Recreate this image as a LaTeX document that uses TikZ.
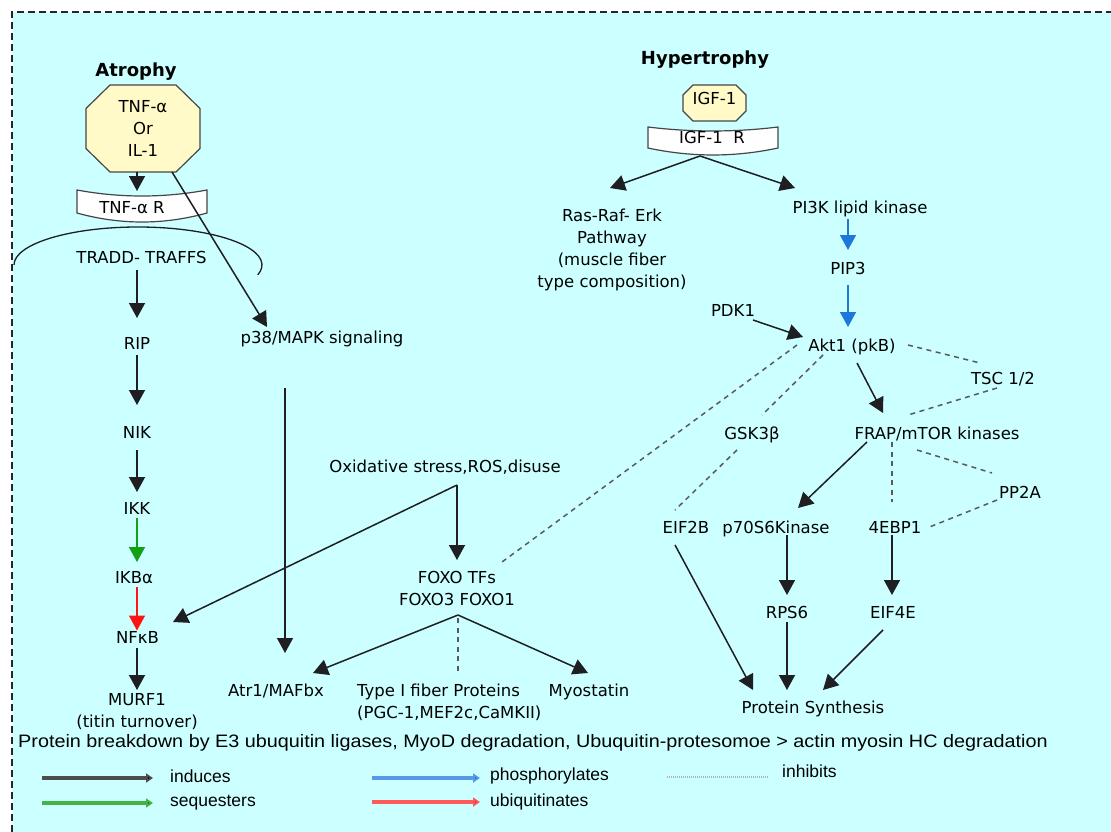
\documentclass[tikz,border=0pt]{standalone}
\usepackage{fontspec}
\usepackage{graphicx}
\setmainfont{DejaVu Sans}
\newfontfamily\legendfont{Liberation Sans}
\usetikzlibrary{arrows.meta,calc}

\definecolor{bgcyan}{RGB}{204,255,255}
\definecolor{ink}{RGB}{30,30,35}
\definecolor{octfill}{RGB}{255,250,200}
\definecolor{edgegray}{RGB}{70,70,70}
\definecolor{phosblue}{RGB}{30,120,220}
\definecolor{seqgreen}{RGB}{20,160,20}
\definecolor{ubired}{RGB}{255,20,20}
\definecolor{inhgray}{RGB}{90,90,90}

\newcommand\diagfont{\fontsize{16.5}{22}\selectfont}
\newcommand\titlefont{\fontsize{18}{22}\selectfont\bfseries}
\newcommand\keyfont{\legendfont\fontsize{17.5}{21}\selectfont}
\newcommand\notefont{\legendfont\fontsize{18}{21}\selectfont}

\begin{document}
\begin{tikzpicture}[x=1pt,y=-1pt,
  lbl/.style={inner sep=0pt, text height=12pt, text depth=0pt, font=\diagfont},
  block/.style={inner sep=0pt, align=center, font=\diagfont},
  title/.style={inner sep=0pt, text height=13pt, text depth=0pt, font=\titlefont},
  keytext/.style={inner sep=0pt, anchor=west, font=\keyfont},
  arr/.style={draw=ink, line width=1.5pt, -{Triangle[length=15pt,width=16pt]}},
  phos/.style={arr, draw=phosblue, -{Triangle[length=15pt,width=16pt,fill=phosblue]}},
  seq/.style={arr, draw=seqgreen, -{Triangle[length=15pt,width=16pt,fill=seqgreen]}},
  ubi/.style={arr, draw=ubired, -{Triangle[length=15pt,width=16pt,fill=ubired]}},
  inh/.style={draw=inhgray, line width=1.5pt, dash pattern=on 5pt off 4.5pt},
  octa/.style={draw=edgegray, fill=octfill, line width=1.2pt},
  recep/.style={draw=edgegray, fill=white, line width=1.2pt},
  keyarr/.style={line width=3.2pt},
]
\useasboundingbox (0,0) rectangle (1111,832);

% page and frame
\fill[white] (0,0) rectangle (1111,832);
\fill[bgcyan] (12,12) rectangle (1111,832);
\draw[black!85, line width=1.8pt, dash pattern=on 7pt off 4pt] (12,832) -- (12,12) -- (1111,12);

% ---------------- Atrophy side ----------------
\node[title] (atrophy) at (136,70) {Atrophy};

\coordinate (tnfc) at (143,128.5);
\draw[octa] ($(tnfc)+(-33,-43.5)$) -- ($(tnfc)+(33,-43.5)$) -- ($(tnfc)+(57,-20)$)
  -- ($(tnfc)+(57,20)$) -- ($(tnfc)+(33,43.5)$) -- ($(tnfc)+(-33,43.5)$)
  -- ($(tnfc)+(-57,20)$) -- ($(tnfc)+(-57,-20)$) -- cycle;
\node[block] (tnf) at (tnfc) {TNF-α\\Or\\IL-1};

\coordinate (tnfrc) at (142,205);
\draw[recep] ($(tnfrc)+(-65,-15)$) .. controls ($(tnfrc)+(-22,-7)$) and ($(tnfrc)+(22,-7)$) .. ($(tnfrc)+(65,-15)$)
  -- ($(tnfrc)+(65,8)$) .. controls ($(tnfrc)+(22,20)$) and ($(tnfrc)+(-22,20)$) .. ($(tnfrc)+(-65,8)$) -- cycle;
\node[lbl] (tnfr) at (132,207) {TNF-α R};

% membrane
\draw[ink, line width=1.3pt] (14,265) arc[start angle=180, end angle=375, x radius=124, y radius=38];

\node[lbl] (tradd) at (141.5,257.5) {TRADD- TRAFFS};
\node[lbl] (rip)   at (137,343) {RIP};
\node[lbl] (nik)   at (137,432) {NIK};
\node[lbl] (ikk)   at (137,508) {IKK};
\node[lbl] (ikba)  at (134,577) {IKBα};
\node[lbl] (nfkb)  at (137.5,637.5) {NFκB};
\node[block] (murf) at (137,712) {MURF1\\(titin turnover)};

\node[lbl] (p38)  at (322,337) {p38/MAPK signaling};
\node[lbl] (oxid) at (445,466) {Oxidative stress,ROS,disuse};
\node[block] (foxo) at (457,588) {FOXO TFs\\FOXO3 FOXO1};
\node[lbl] (atr)  at (276,690) {Atr1/MAFbx};
\node[block, align=left, anchor=west] (typei) at (357,702) {Type I fiber Proteins\\(PGC-1,MEF2c,CaMKII)};
\node[lbl] (myo)  at (589,690) {Myostatin};

\node[inner sep=0pt, anchor=west, font=\notefont] (breakdown) at (18,743) {\scalebox{1.1}[1]{Protein breakdown by E3 ubuquitin ligases, MyoD degradation, Ubuquitin-protesomoe > actin myosin HC degradation}};

% ---------------- Hypertrophy side ----------------
\node[title] (hyper) at (705,58.5) {Hypertrophy};

\coordinate (igfc) at (714.5,103);
\draw[octa] ($(igfc)+(-21.5,-18)$) -- ($(igfc)+(21.5,-18)$) -- ($(igfc)+(31.5,-8)$)
  -- ($(igfc)+(31.5,8)$) -- ($(igfc)+(21.5,18)$) -- ($(igfc)+(-21.5,18)$)
  -- ($(igfc)+(-31.5,8)$) -- ($(igfc)+(-31.5,-8)$) -- cycle;
\node[lbl] (igf) at (714.5,99) {IGF-1};

\coordinate (igfrc) at (713,140);
\draw[recep] ($(igfrc)+(-65,-13)$) .. controls ($(igfrc)+(-22,-7.7)$) and ($(igfrc)+(22,-7.7)$) .. ($(igfrc)+(65,-13)$)
  -- ($(igfrc)+(65,8)$) .. controls ($(igfrc)+(22,17.3)$) and ($(igfrc)+(-22,17.3)$) .. ($(igfrc)+(-65,8)$) -- cycle;
\node[lbl] (igfr) at (712,137.5) {IGF-1\ \ R};

\node[block] (ras)  at (612,250) {Ras-Raf- Erk\\Pathway\\(muscle fiber\\type composition)};
\node[lbl] (pi3k)  at (860,207) {PI3K lipid kinase};
\node[lbl] (pip3)  at (848,268) {PIP3};
\node[lbl] (pdk1)  at (733,310) {PDK1};
\node[lbl] (akt)   at (852,345) {Akt1 (pkB)};
\node[lbl] (tsc)   at (1003,378) {TSC 1/2};
\node[lbl] (frap)  at (937,433) {FRAP/mTOR kinases};
\node[lbl] (gsk)   at (752,433) {GSK3β};
\node[lbl] (eif2b) at (686,527) {EIF2B};
\node[lbl] (p70)   at (776,527) {p70S6Kinase};
\node[lbl] (ebp)   at (895,527) {4EBP1};
\node[lbl] (pp2a)  at (1020,492) {PP2A};
\node[lbl] (rps6)  at (787,612) {RPS6};
\node[lbl] (eif4e) at (893,612) {EIF4E};
\node[lbl] (ps)    at (813,707) {Protein Synthesis};

% ---------------- connectors: atrophy ----------------
\draw[arr] ($(tnf)+(-6,43.5)$) -- ($(tnfr)+(5,-16)$);
\draw[arr] ($(tnf)+(29,43.5)$) -- ($(p38)+(-55,-10)$);
\draw[arr] ($(tradd)+(-4.5,12.5)$) -- ($(rip)+(0,-25)$);
\draw[arr] ($(rip)+(0,12)$) -- ($(nik)+(0,-27)$);
\draw[arr] ($(nik)+(0,18)$) -- ($(ikk)+(0,-16)$);
\draw[seq] ($(ikk)+(0,10)$) -- ($(ikba)+(3,-15)$);
\draw[ubi] ($(ikba)+(3,10)$) -- ($(nfkb)+(-0.5,-7)$);
\draw[arr] ($(nfkb)+(-0.5,10.5)$) -- ($(murf)+(0,-22)$);
\draw[arr] ($(p38)+(-37,51)$) -- ($(atr)+(9,-37)$);
\draw[arr] ($(oxid)+(12,19)$) -- ($(foxo)+(0,-28)$);
\draw[arr] ($(oxid)+(12,19)$) -- ($(nfkb)+(35.5,-15.5)$);
\draw[arr] ($(foxo)+(1,27)$) -- ($(atr)+(37,-17)$);
\draw[arr] ($(foxo)+(1,27)$) -- ($(myo)+(-1,-17)$);
\draw[inh] ($(foxo)+(1,30)$) -- ($(typei.west)+(101,-28)$);

% ---------------- connectors: hypertrophy ----------------
\draw[arr] ($(igfr)+(-12,18.5)$) -- ($(ras)+(-2,-62)$);
\draw[arr] ($(igfr)+(-12,18.5)$) -- ($(pi3k)+(-65,-19)$);
\draw[phos] ($(pi3k)+(-12,12)$) -- ($(pip3)+(0,-18)$);
\draw[phos] ($(pip3)+(0,17)$) -- ($(akt)+(-4,-18)$);
\draw[arr] ($(pdk1)+(20,10)$) -- ($(akt)+(-49,-8)$);
\draw[inh] ($(akt)+(56,0)$) -- ($(tsc)+(-23,-15)$);
\draw[arr] ($(akt)+(5,18)$) -- ($(frap)+(-54,-20)$);
\draw[inh] ($(tsc)+(-6,10)$) -- ($(frap)+(-29,-18)$);
\draw[inh] ($(akt)+(-29,10)$) -- ($(gsk)+(10,-18)$);
\draw[inh] ($(akt)+(-55,0)$) -- ($(foxo)+(45,-26)$);
\draw[inh] ($(gsk)+(-15,17)$) -- ($(eif2b)+(-11,-17)$);
\draw[arr] ($(frap)+(-70,9)$) -- ($(p70)+(22,-19)$);
\draw[inh] ($(frap)+(-45,9)$) -- ($(ebp)+(-3,-25)$);
\draw[inh] ($(frap)+(-20,17)$) -- ($(pp2a)+(-28,-19)$);
\draw[inh] ($(pp2a)+(-23,8)$) -- ($(ebp)+(32,1)$);
\draw[arr] ($(p70)+(11,8)$) -- ($(rps6)+(0,-17)$);
\draw[arr] ($(ebp)+(-3,8)$) -- ($(eif4e)+(-1,-17)$);
\draw[arr] ($(rps6)+(0,10)$) -- ($(ps)+(-26,-17)$);
\draw[arr] ($(eif4e)+(-10,18)$) -- ($(ps)+(10,-17)$);
\draw[arr] ($(eif2b)+(-11,18)$) -- ($(ps)+(-60,-17)$);

% ---------------- key ----------------
\node[keytext] (kind) at (170,776) {induces};
\node[keytext] (kseq) at (170,803) {sequesters};
\node[keytext] (kpho) at (490,776) {phosphorylates};
\node[keytext] (kubi) at (490,802) {ubiquitinates};
\node[keytext] (kinh) at (782,771) {inhibits};
\coordinate (kindA) at (42,778);
\coordinate (kseqA) at (42,803);
\coordinate (kphoA) at (372,778);
\coordinate (kubiA) at (372,802);
\coordinate (kinhA) at (667,777);
\draw[keyarr, draw=black!70, -{Triangle[length=7pt,width=9pt,fill=black]}] (kindA) -- ($(kind.west)+(-17,2)$);
\draw[keyarr, draw=seqgreen!80!white, -{Triangle[length=7pt,width=9pt,fill=seqgreen!80!black]}] (kseqA) -- ($(kseq.west)+(-17,0)$);
\draw[keyarr, draw=phosblue!75!white, -{Triangle[length=7pt,width=9pt,fill=phosblue!80!black]}] (kphoA) -- ($(kpho.west)+(-10,2)$);
\draw[keyarr, draw=ubired!70!white, -{Triangle[length=7pt,width=9pt,fill=ubired]}] (kubiA) -- ($(kubi.west)+(-10,0)$);
\draw[gray!60, line width=2.4pt, dash pattern=on 1pt off 1pt] (kinhA) -- ($(kinh.west)+(-14,6)$);
\end{tikzpicture}
\end{document}
